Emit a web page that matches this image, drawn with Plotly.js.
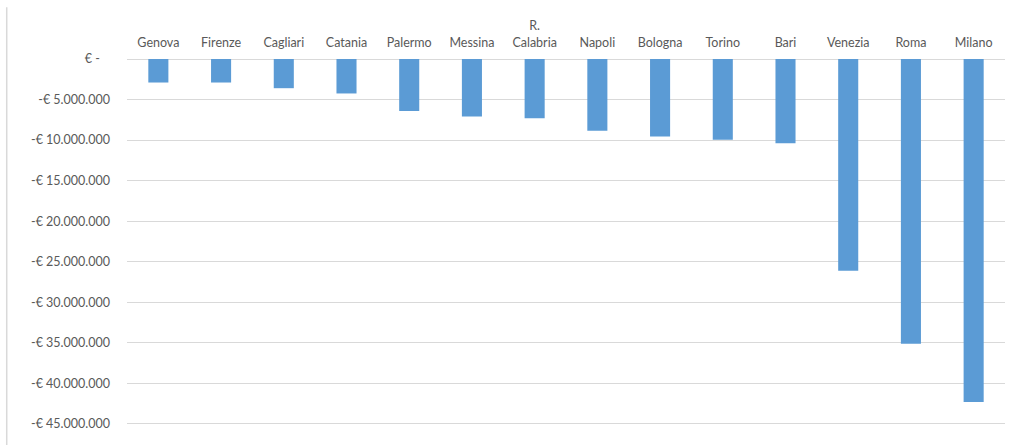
<!DOCTYPE html>
<html>
<head>
<meta charset="utf-8">
<script src="https://cdn.plot.ly/plotly-3.0.1.min.js"></script>
<style>html,body{margin:0;padding:0;background:#fff;}#chart{width:1016px;height:445px;}</style>
</head>
<body>
<div id="chart"></div>
<script>
var categories = ["Genova", "Firenze", "Cagliari", "Catania", "Palermo", "Messina", "R.<br>Calabria", "Napoli", "Bologna", "Torino", "Bari", "Venezia", "Roma", "Milano"];
var values = [-2900000, -2900000, -3600000, -4250000, -6400000, -7100000, -7300000, -8850000, -9550000, -9950000, -10400000, -26100000, -35100000, -42300000];
var yTickVals = [0, -5000000, -10000000, -15000000, -20000000, -25000000, -30000000, -35000000, -40000000, -45000000];
var yTickText = ["€ -<span style='color:rgba(255,255,255,0)'>0.</span>", "-€ 5.000.000", "-€ 10.000.000", "-€ 15.000.000", "-€ 20.000.000", "-€ 25.000.000", "-€ 30.000.000", "-€ 35.000.000", "-€ 40.000.000", "-€ 45.000.000"];

var trace = {
  type: "bar",
  x: categories,
  y: values,
  marker: {color: "#5B9BD5", line: {width: 0}},
  hoverinfo: "x+y"
};

var layout = {
  width: 1016,
  height: 445,
  margin: {l: 127, r: 11, t: 59, b: 17, pad: 0},
  paper_bgcolor: "#ffffff",
  plot_bgcolor: "#ffffff",
  showlegend: false,
  bargap: 0.68,
  font: {family: "Lato, 'Open Sans', sans-serif", size: 12, color: "#595959"},
  xaxis: {
    side: "top",
    type: "category",
    showgrid: false,
    showline: false,
    zeroline: false,
    ticks: "",
    ticklabelstandoff: 9,
    tickfont: {size: 12.5, color: "#595959"},
    fixedrange: true
  },
  yaxis: {
    range: [-45500000, 0],
    tickvals: yTickVals,
    ticktext: yTickText,
    showgrid: true,
    gridcolor: "#D9D9D9",
    gridwidth: 1,
    zeroline: true,
    zerolinecolor: "#D9D9D9",
    zerolinewidth: 1,
    showline: false,
    ticks: "",
    ticklabelstandoff: 16,
    tickfont: {size: 12.5, color: "#595959"},
    fixedrange: true
  },
  shapes: [{
    type: "line",
    xref: "paper", yref: "paper",
    x0: -0.137, x1: -0.137,
    y0: 1.14, y1: -0.06,
    line: {color: "#D9D9D9", width: 1.5}
  }]
};

Plotly.newPlot("chart", [trace], layout, {displayModeBar: false, staticPlot: true});
</script>
</body>
</html>
